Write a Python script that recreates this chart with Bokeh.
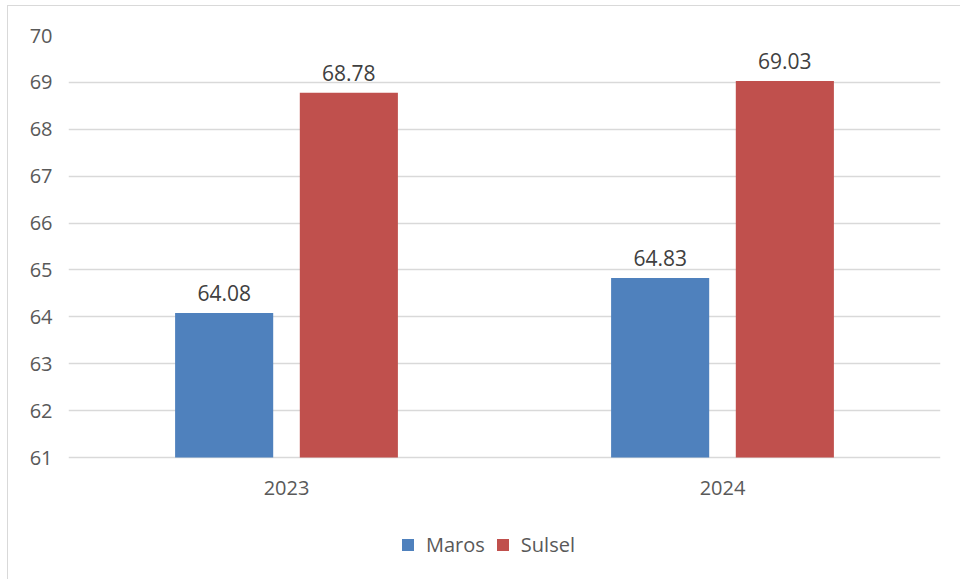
from bokeh.plotting import figure
from bokeh.models import ColumnDataSource, FactorRange, FixedTicker, Legend, LegendItem, Range1d
from bokeh.transform import dodge
from bokeh.core.properties import value
from bokeh.embed import file_html
from bokeh.resources import INLINE

years = ["2023", "2024"]
maros = [64.08, 64.83]
sulsel = [68.78, 69.03]
y_ticks = [61, 62, 63, 64, 65, 66, 67, 68, 69, 70]
y_base = 61
y_top = 70

BLUE = "#4F81BD"
RED = "#C0504D"
FONT = "Open Sans"

src = ColumnDataSource(dict(
    years=years,
    base=[y_base] * len(years),
    maros=maros,
    sulsel=sulsel,
    maros_lbl=[f"{v:.2f}" for v in maros],
    sulsel_lbl=[f"{v:.2f}" for v in sulsel],
))

# frame extends below the value axis to hold category labels and legend
plot_h = 422          # pixels for the 61..70 span
frame_h = 544
y_low = y_top - (y_top - y_base) * frame_h / plot_h

p = figure(
    x_range=FactorRange(factors=years),
    y_range=Range1d(y_low, y_top),
    frame_width=872, frame_height=frame_h,
    output_backend="svg", toolbar_location=None,
    min_border_left=60, min_border_right=20, min_border_top=29, min_border_bottom=0,
)
p.styles = {"outline": "1px solid #d9d9d9", "margin-left": "8px", "margin-top": "6px"}
p.outline_line_color = None
p.background_fill_color = "white"
p.border_fill_color = "white"

off = 0.143
bw = 0.225
r1 = p.vbar(x=dodge("years", -off, range=p.x_range), top="maros", bottom=y_base, width=bw,
            source=src, fill_color=BLUE, line_color=None)
r2 = p.vbar(x=dodge("years", off, range=p.x_range), top="sulsel", bottom=y_base, width=bw,
            source=src, fill_color=RED, line_color=None)

for col, o in (("maros", -off), ("sulsel", off)):
    p.text(x=dodge("years", o, range=p.x_range), y=col, text=col + "_lbl", source=src,
           text_align="center", text_baseline="alphabetic", y_offset=-20,
           text_font=value(FONT), text_font_size="21px", text_color="#404040")

# category labels under the base line
p.text(x="years", y="base", text="years", source=src,
       text_align="center", text_baseline="middle", y_offset=30,
       text_font=value(FONT), text_font_size="20px", text_color="#595959")

p.yaxis.ticker = FixedTicker(ticks=y_ticks)
p.yaxis.axis_line_color = None
p.yaxis.major_tick_line_color = None
p.yaxis.minor_tick_line_color = None
p.yaxis.major_tick_out = 0
p.yaxis.major_label_standoff = 16
p.yaxis.major_label_text_font = FONT
p.yaxis.major_label_text_font_size = "20px"
p.yaxis.major_label_text_color = "#595959"

p.xaxis.visible = False

p.xgrid.grid_line_color = None
p.ygrid.ticker = FixedTicker(ticks=y_ticks)
p.ygrid.grid_line_color = "#d9d9d9"
p.ygrid.grid_line_width = 1.5

legend = Legend(
    items=[LegendItem(label="Maros", renderers=[r1]), LegendItem(label="Sulsel", renderers=[r2])],
    orientation="horizontal", location=(332, 21),
    glyph_width=15, glyph_height=15, label_standoff=11, spacing=10,
    label_text_font=FONT, label_text_font_size="20px", label_text_color="#595959",
    border_line_color=None, background_fill_alpha=0, margin=0, padding=5,
)
p.add_layout(legend, "center")

open("out.html", "w").write(file_html(p, INLINE))
